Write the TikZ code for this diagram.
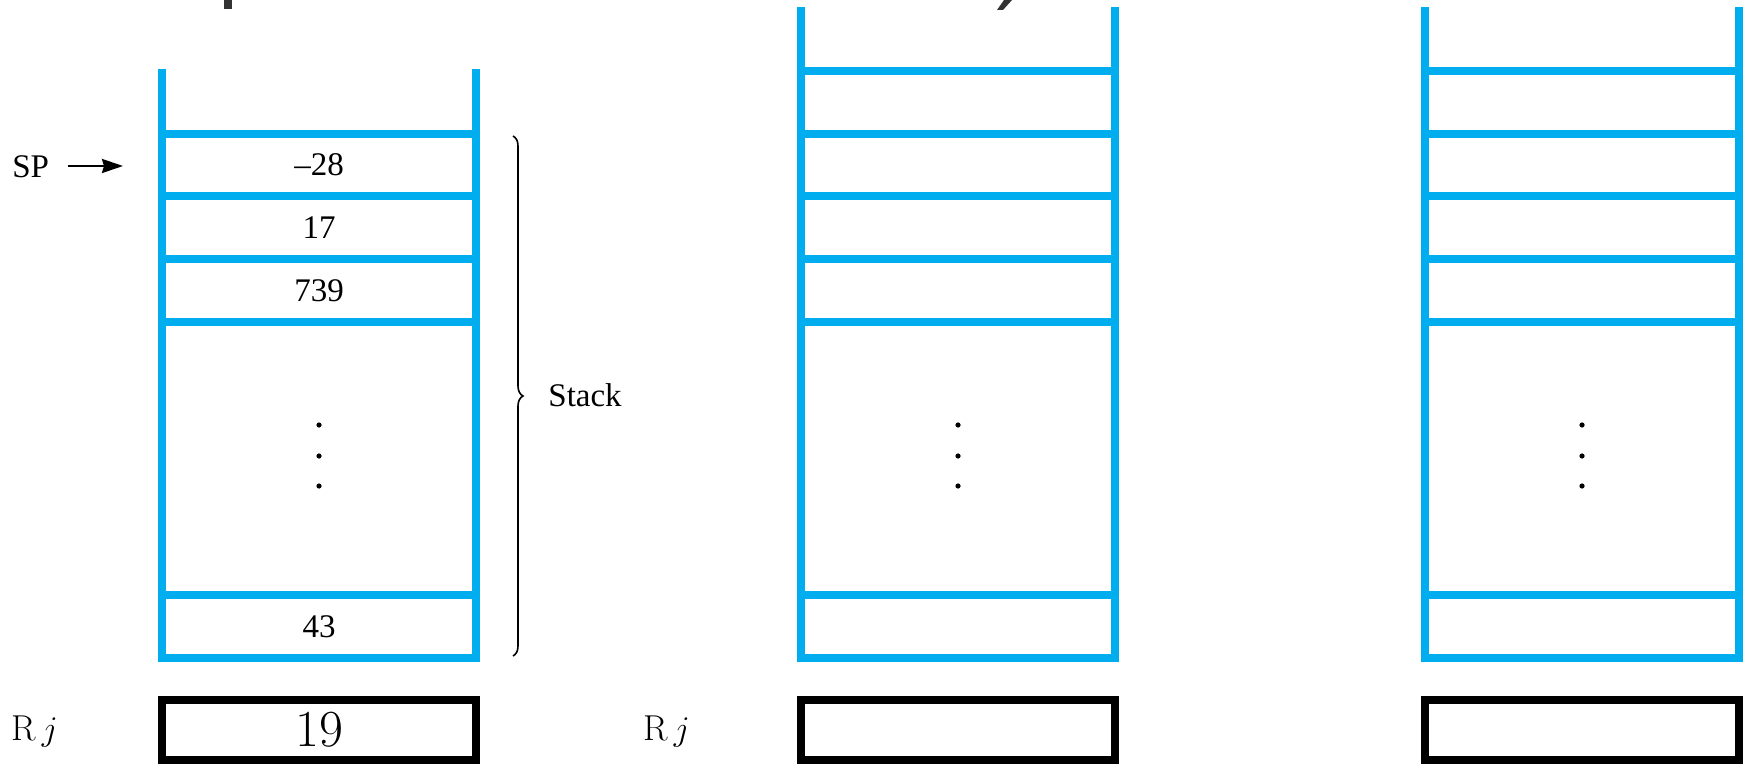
\documentclass[tikz,border=0pt]{standalone}
\usepackage{fontspec}
\newfontfamily\timesfont[Ligatures=TeX]{Liberation Serif}
\usetikzlibrary{arrows.meta,decorations.pathreplacing}
\definecolor{stackblue}{RGB}{0,174,239}

\begin{document}
\begin{tikzpicture}[x=0.5pt, y=-0.5pt,
    wall/.style={draw=stackblue, line width=4pt, line join=miter},
    slot/.style={draw=stackblue, line width=4.4pt},
    regbox/.style={draw=black, line width=4.2pt, minimum width=157pt, minimum height=30pt,
                   inner sep=0pt, font=\fontsize{26}{28}\selectfont},
    entry/.style={inner sep=0pt, font=\timesfont\fontsize{16.5}{18}\selectfont},
    reglabel/.style={anchor=base west, inner sep=0pt, font=\fontsize{18}{20}\selectfont},
    headink/.style={fill=black!80}]
  \useasboundingbox (0,0) rectangle (1743,764);
  % bits of the heading that reach down into the picture
  \fill[headink] (224,0) rectangle (232,9);
  \fill[headink] (1004,0) -- (1012,0) -- (1003,10) -- (997,10) -- cycle;
  % three stacks, the first one is open above its top entry
  \foreach \s/\top in {0/69,639/7,1263/7}
  {
    \draw[wall, shift={(\s,0)}] (162,\top) -- (162,658) -- (476,658) -- (476,\top);
    \foreach \y in {134,196,259,322,595}
      \draw[slot, shift={(\s,0)}] (162,\y) -- (476,\y);
    \foreach \d in {425,456,486}
      \fill[shift={(\s,0)}] (319,\d) circle (1.3pt);
  }
  \foreach \s in {639,1263}
    \draw[slot, shift={(\s,0)}] (162,71) -- (476,71);
  % stack contents
  \node[entry] (v1) at (319,165) {--28};
  \node[entry] (v2) at (319,227.5) {17};
  \node[entry] (v3) at (319,290.5) {739};
  \node[entry] (v4) at (319,626.5) {43};
  % stack pointer
  \node[entry, anchor=west] (sp) at (12,167) {SP};
  \coordinate (sptip) at (123,166);
  \draw[line width=1.2pt, -{Stealth[length=10.5pt, width=7pt, inset=1pt]}]
    ([xshift=9pt,yshift=0.5pt]sp.east) -- (sptip);
  % brace over the used part
  \coordinate (bracetop) at (513,136);
  \coordinate (bracebot) at (513,656);
  \draw[line width=0.8pt, decorate, decoration={brace, amplitude=5pt}] (bracetop) -- (bracebot);
  \node[entry, anchor=west] (stacklbl) at (548,395) {Stack};
  % registers
  \node[regbox] (reg1) at (319,730) {19};
  \node[regbox] (reg2) at (958,730) {};
  \node[regbox] (reg3) at (1582,730) {};
  \node[reglabel] (rj1) at (11,740) {R\,$j$};
  \node[reglabel] (rj2) at (643,740) {R\,$j$};
\end{tikzpicture}
\end{document}
